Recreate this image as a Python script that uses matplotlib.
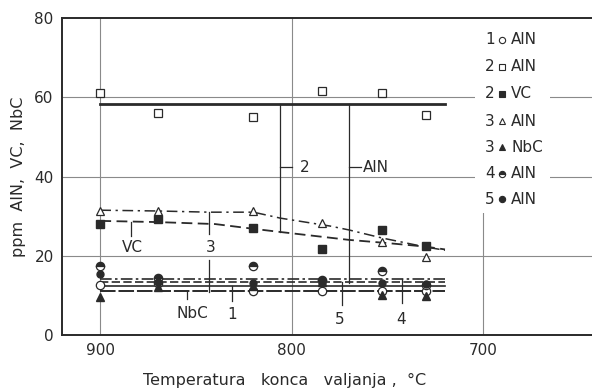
import matplotlib
matplotlib.use("Agg")
import matplotlib.pyplot as plt
from matplotlib.patches import Rectangle

# ---------------- data ----------------
temps_pts = [900, 870, 820, 784, 753, 730]
aln1 = [12.5, 13.0, 11.0, 11.0, 11.0, 11.0]          # 1 open circle
aln2 = [61.0, 56.0, 55.0, 61.5, 61.0, 55.5]          # 2 open square
vc2 = [28.0, 29.3, 27.0, 21.7, 26.5, 22.5]           # 2 filled square
aln3 = [31.3, 31.3, 31.3, 28.3, 23.5, 19.7]          # 3 open triangle
nbc3 = [9.6, 12.0, 12.4, 13.5, 10.0, 9.8]            # 3 filled triangle
aln4 = [17.3, 14.4, 17.4, 14.0, 16.2, 12.5]          # 4 half circle
aln5 = [15.5, 13.5, 13.0, 13.0, 13.0, 12.8]          # 5 filled circle

# fitted curves
flat_t = [900, 720]
curve2_aln = [58.3, 58.3]
curve_vc_t = [900, 870, 840, 820, 806, 770, 750, 730, 720]
curve_vc = [28.8, 28.5, 28.0, 26.8, 26.0, 24.0, 23.2, 22.3, 21.6]
curve3_t = [900, 870, 843, 820, 806, 780, 770, 753, 730, 720]
curve3_aln = [31.5, 31.3, 31.0, 31.0, 29.5, 27.5, 26.5, 24.5, 22.2, 21.4]
curve4_aln = [14.1, 14.1]
curve5_aln = [13.3, 13.3]
curve1_aln = [12.3, 12.3]
curve3_nbc = [11.2, 11.2]

legend_nums = ["1", "2", "2", "3", "3", "4", "5"]
legend_names = ["AlN", "AlN", "VC", "AlN", "NbC", "AlN", "AlN"]

x_ticks = [900, 800, 700]
y_ticks = [0, 20, 40, 60, 80]

# ---------------- figure ----------------
plt.rcParams['font.family'] = ['DejaVu Sans']
fig = plt.figure(figsize=(5.92, 3.92), dpi=100)
ax = fig.add_axes([0.1047, 0.1454, 0.92, 0.8086])
ax.set_xlim(920, 643.3 - 0.025 * 592 / 1.917)
ax.set_ylim(0, 80)

ink = '#2a2a2a'
gridc = '#8a8a8a'

ax.spines['right'].set_visible(False)
for s in ['left', 'top', 'bottom']:
    ax.spines[s].set_linewidth(1.4)
    ax.spines[s].set_color(ink)

ax.set_xticks(x_ticks)
ax.set_yticks(y_ticks)
ax.tick_params(length=0, labelsize=11, colors=ink, pad=6)
for t in x_ticks:
    ax.axvline(t, color=gridc, lw=0.8, zorder=0.5)
for v in [20, 40, 60]:
    ax.axhline(v, color=gridc, lw=0.8, zorder=0.5)

# curves
ax.plot(flat_t, curve2_aln, color=ink, lw=2.0, zorder=2)
ax.plot(curve_vc_t, curve_vc, color=ink, lw=1.3, ls=(0, (6, 3)), zorder=2)
ax.plot(curve3_t, curve3_aln, color=ink, lw=1.1, ls=(0, (7, 3, 1.5, 3)), zorder=2)
ax.plot(flat_t, curve4_aln, color=ink, lw=1.2, ls=(0, (7, 2, 1.5, 2)), zorder=2)
ax.plot(flat_t, curve5_aln, color=ink, lw=1.2, ls=(0, (5, 2)), zorder=2)
ax.plot(flat_t, curve1_aln, color=ink, lw=1.2, zorder=2)
ax.plot(flat_t, curve3_nbc, color=ink, lw=1.4, ls=(0, (8, 1.5)), zorder=2)

# markers
ms = 6
ax.plot(temps_pts, aln2, ls='none', marker='s', mfc='white', mec=ink, ms=ms, mew=0.9, zorder=3)
ax.plot(temps_pts, vc2, ls='none', marker='s', mfc=ink, mec=ink, ms=ms, zorder=3)
ax.plot(temps_pts, aln3, ls='none', marker='^', mfc='white', mec=ink, ms=ms, mew=0.9, zorder=3)
ax.plot(temps_pts, aln1, ls='none', marker='o', mfc='white', mec=ink, ms=ms, mew=0.9, zorder=3)
ax.plot(temps_pts, nbc3, ls='none', marker='^', mfc=ink, mec=ink, ms=ms, zorder=3)
ax.plot(temps_pts, aln4, ls='none', marker='o', fillstyle='top', mfc=ink, mfcalt='white', mec=ink, ms=ms, mew=0.9, zorder=3)
ax.plot(temps_pts, aln5, ls='none', marker='o', mfc=ink, mec=ink, ms=ms - 1, zorder=3)

# pointer / tie lines
tl = dict(color=ink, lw=0.9, zorder=2)
ax.plot([806, 806], [58.3, 26.0], **tl)
ax.plot([770, 770], [58.3, 13.0], **tl)
ax.plot([806, 800], [42.3, 42.3], **tl)
ax.plot([770, 764], [42.3, 42.3], **tl)
ax.plot([884, 884], [28.6, 25.0], **tl)
ax.plot([843, 843], [31.0, 25.5], **tl)
ax.plot([843, 843], [19.0, 10.8], **tl)
ax.plot([854.5, 854.5], [11.2, 9.0], **tl)
ax.plot([831, 831], [12.3, 8.5], **tl)
ax.plot([774, 774], [13.3, 7.5], **tl)
ax.plot([742.5, 742.5], [14.1, 8.0], **tl)

lab = dict(color=ink, fontsize=11, ha='center', va='center', zorder=4)
ax.text(793, 42.3, "2", **lab)
ax.text(763, 42.3, "AlN", color=ink, fontsize=11, ha='left', va='center', zorder=4)
ax.text(883, 22.2, "VC", **lab)
ax.text(842.5, 22.2, "3", **lab)
ax.text(852, 5.5, "NbC", **lab)
ax.text(831, 5.3, "1", **lab)
ax.text(775, 3.8, "5", **lab)
ax.text(743, 3.8, "4", **lab)

# legend block
ax.add_patch(Rectangle((665.2, 30.8), 704.3 - 665.2, 80 - 30.8, transform=ax.transData,
                       facecolor='white', edgecolor='none', zorder=1))
rows_y = [74.5, 67.7, 60.9, 54.0, 47.4, 40.7, 34.3]
leg_styles = [
    dict(marker='o', mfc='white', mec=ink),
    dict(marker='s', mfc='white', mec=ink),
    dict(marker='s', mfc=ink, mec=ink),
    dict(marker='^', mfc='white', mec=ink),
    dict(marker='^', mfc=ink, mec=ink),
    dict(marker='o', fillstyle='top', mfc=ink, mfcalt='white', mec=ink),
    dict(marker='o', mfc=ink, mec=ink),
]
for yv, num, name, st in zip(rows_y, legend_nums, legend_names, leg_styles):
    ax.text(696.5, yv, num, color=ink, fontsize=11, ha='center', va='center', zorder=4)
    ax.plot([690.2], [yv], ls='none', ms=4.5, mew=0.8, zorder=4, **st)
    ax.text(685.5, yv, name, color=ink, fontsize=11, ha='left', va='center', zorder=4)

ax.set_xlabel("Temperatura   konca   valjanja ,  °C", fontsize=11.5, color=ink)
ax.set_ylabel("ppm  AlN,  VC,  NbC", fontsize=11.5, color=ink, labelpad=6)
axw = 0.92 * 592
ax.xaxis.set_label_coords((285 - 62) / axw, -0.12)

fig.savefig("out.png", dpi=100)
